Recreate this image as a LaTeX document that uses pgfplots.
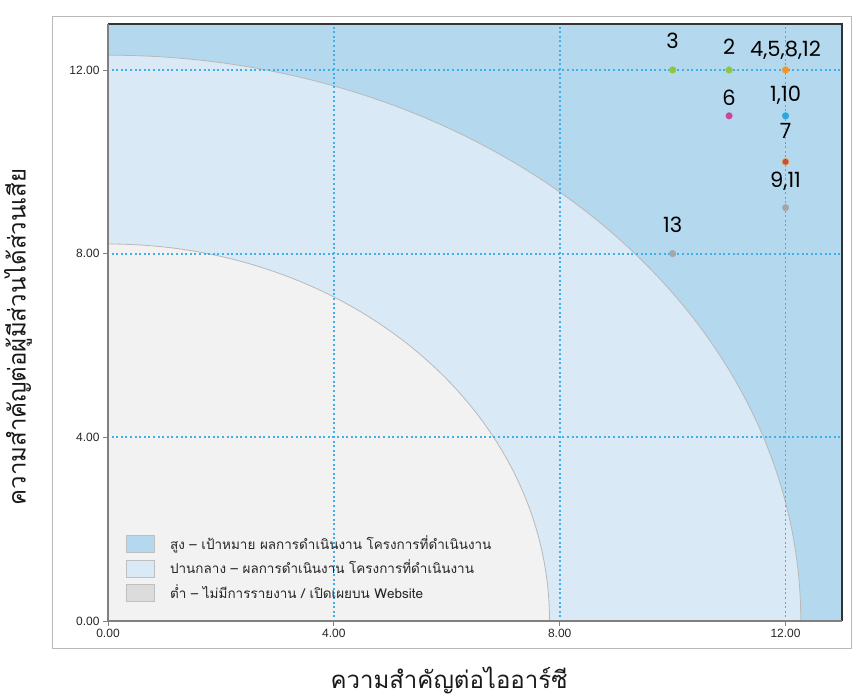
\documentclass[border=0pt]{standalone}
\usepackage{pgfplots}
\pgfplotsset{compat=1.18}
\usetikzlibrary{decorations.markings}
\usepackage{fontspec}
\setmainfont{Liberation Sans}
\newfontfamily\thaifont[Script=Thai]{Loma}
\newfontfamily\numfont{Poppins}
\definecolor{hiblue}{HTML}{B4D8ED}
\definecolor{midblue}{HTML}{DAE9F6}
\definecolor{lowgrey}{HTML}{F2F2F2}
\definecolor{leggrey}{HTML}{DCDCDC}
\definecolor{gridblue}{HTML}{40B0E8}
\definecolor{ptgreen}{HTML}{8DC63F}
\definecolor{ptorange}{HTML}{F7941D}
\definecolor{ptmagenta}{HTML}{C9479C}
\definecolor{ptblue}{HTML}{27AAE1}
\definecolor{ptred}{HTML}{C0504D}
\definecolor{ptgrey}{HTML}{A6A6A6}
\tikzset{gridline/.style={postaction={decorate}, decoration={markings,
  mark=between positions 0 and 1 step 4.6pt with {\fill[gridblue] (-1pt,-0.9pt) rectangle (1pt,0.9pt);}}}}
\begin{document}
\begin{tikzpicture}
\path (0,0) rectangle (866pt,698pt);
\draw[black!28, line width=1pt] (52.5pt,49.5pt) rectangle (851pt,681pt);
\begin{axis}[
  set layers,
  at={(108pt,77pt)}, anchor=south west,
  scale only axis, width=734pt, height=597pt,
  xmin=0, xmax=13, ymin=0, ymax=13,
  clip=false,
  xtick={0,4,8,12}, ytick={0,4,8,12},
  xticklabels={0.00,4.00,8.00,12.00},
  yticklabels={0.00,4.00,8.00,12.00},
  tick label style={font=\fontsize{12}{14}\selectfont, text=black!85},
  xticklabel style={yshift=-5pt},
  yticklabel style={xshift=-5pt},
  major tick length=0pt,
  grid=none,
  axis line style={draw=none},
  legend style={at={(0.02,0.15)}, anchor=north west, draw=none, fill=none,
    font=\thaifont\fontsize{13.5}{15}\selectfont, text=black!85, row sep=5pt},
  legend cell align=left,
  legend image code/.code={\draw[#1] (0pt,-9pt) rectangle (28pt,8pt); \path[draw=none,fill=none] (0pt,0pt) -- (42pt,0pt);},
]
\begin{pgfonlayer}{axis background}
\fill[hiblue] (axis cs:0,0) rectangle (axis cs:13,13);
\filldraw[fill=midblue, draw=black!28, line width=0.8pt] (axis cs:0,0) -- (axis cs:12.27,0) arc[start angle=0, end angle=90, x radius=692.8pt, y radius=565.8pt] -- cycle;
\filldraw[fill=lowgrey, draw=black!28, line width=0.8pt] (axis cs:0,0) -- (axis cs:7.82,0) arc[start angle=0, end angle=90, x radius=441.5pt, y radius=377.0pt] -- cycle;
\end{pgfonlayer}

\path[gridline] (axis cs:4,0) -- (axis cs:4,13);
\path[gridline] (axis cs:8,0) -- (axis cs:8,13);
\path[gridline] (axis cs:12,0) -- (axis cs:12,13);
\path[gridline] (axis cs:0,4) -- (axis cs:13,4);
\path[gridline] (axis cs:0,8) -- (axis cs:13,8);
\path[gridline] (axis cs:0,12) -- (axis cs:13,12);

\addlegendimage{fill=hiblue, draw=black!25}
\addlegendentry{สูง – เป้าหมาย ผลการดำเนินงาน โครงการที่ดำเนินงาน}
\addlegendimage{fill=midblue, draw=black!25}
\addlegendentry{ปานกลาง – ผลการดำเนินงาน โครงการที่ดำเนินงาน}
\addlegendimage{fill=leggrey, draw=black!25}
\addlegendentry{ต่ำ – ไม่มีการรายงาน / เปิดเผยบน Website}

\addplot[only marks, mark=*, mark size=3.3pt, color=ptgreen, forget plot] coordinates {(10,12) (11,12)};
\addplot[only marks, mark=*, mark size=3.3pt, color=ptorange, forget plot] coordinates {(12,12)};
\addplot[only marks, mark=*, mark size=3.3pt, color=ptmagenta, forget plot] coordinates {(11,11)};
\addplot[only marks, mark=*, mark size=3.3pt, color=ptblue, forget plot] coordinates {(12,11)};
\addplot[only marks, mark=*, mark size=3.3pt, mark options={fill=ptred, draw=ptorange, line width=0.5pt}, forget plot] coordinates {(12,10)};
\addplot[only marks, mark=*, mark size=3.3pt, color=ptgrey, forget plot] coordinates {(12,9) (10,8)};

\begin{scope}[every node/.style={font=\numfont\fontsize{21}{22}\selectfont, text=black}]
\node[yshift=29pt] at (axis cs:10,12) {3};
\node[yshift=23pt] at (axis cs:11,12) {2};
\node[yshift=20pt] at (axis cs:12,12) {4,5,8,12};
\node[yshift=18pt] at (axis cs:11,11) {6};
\node[yshift=21pt] at (axis cs:12,11) {1,10};
\node[yshift=31pt] at (axis cs:12,10) {7};
\node[yshift=26pt] at (axis cs:12,9) {9,11};
\node[yshift=29pt] at (axis cs:10,8) {13};
\end{scope}

\draw[black!80, line width=1.2pt] (rel axis cs:0,1) -- (rel axis cs:1,1) -- (rel axis cs:1,0);
\draw[gray, line width=1.8pt] (rel axis cs:0,1) -- (rel axis cs:0,0) -- (rel axis cs:1,0);
\draw[gray, line width=0.8pt] (axis cs:0,0) -- ++(0,-5pt) (axis cs:4,0) -- ++(0,-5pt) (axis cs:8,0) -- ++(0,-5pt) (axis cs:12,0) -- ++(0,-5pt);
\draw[gray, line width=0.8pt] (axis cs:0,0) -- ++(-5pt,0) (axis cs:0,4) -- ++(-5pt,0) (axis cs:0,8) -- ++(-5pt,0) (axis cs:0,12) -- ++(-5pt,0);
\end{axis}
\node[font=\thaifont\fontsize{24}{26}\selectfont, rotate=90, text=black!90] at (18pt,361pt) {ความสำคัญต่อผู้มีส่วนได้ส่วนเสีย};
\node[font=\thaifont\fontsize{24}{26}\selectfont, text=black!90] at (449pt,18pt) {ความสำคัญต่อไออาร์ซี};
\end{tikzpicture}
\end{document}
